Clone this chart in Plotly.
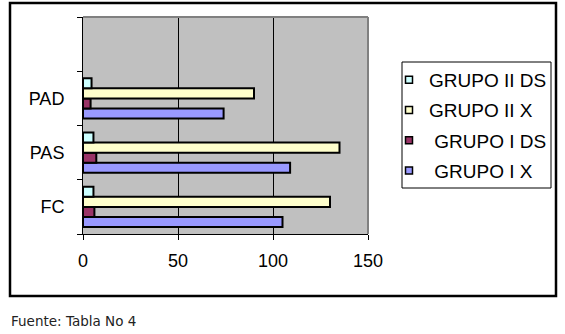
import plotly.graph_objects as go

# Variables (bottom to top on the category axis)
categories = ["FC", "PAS", "PAD"]

grupo_i_x = [105, 109, 74]
grupo_i_ds = [6, 7, 4]
grupo_ii_x = [130, 135, 90]
grupo_ii_ds = [5.5, 5.5, 4.5]

x_ticks = [0, 50, 100, 150]

series = [
    ("GRUPO I X", "\u00a0GRUPO I X", grupo_i_x, "#9999FF"),
    ("GRUPO I DS", "\u00a0GRUPO I DS", grupo_i_ds, "#993366"),
    ("GRUPO II X", "GRUPO II X", grupo_ii_x, "#FFFFCC"),
    ("GRUPO II DS", "GRUPO II DS", grupo_ii_ds, "#CCFFFF"),
]

W, H = 565, 334
L, R, T, B = 83, 197, 17, 100
pw, ph = W - L - R, H - T - B


def px_x(p):
    return (p - L) / pw


def px_y(p):
    return (H - B - p) / ph


ypos = list(range(len(categories)))

fig = go.Figure()
for key, label, vals, color in series:
    fig.add_trace(go.Bar(
        x=vals, y=ypos, orientation="h", name=key, showlegend=False,
        marker=dict(color=color, line=dict(color="black", width=2)),
    ))

# Legend entries, top to bottom
for key, label, vals, color in reversed(series):
    fig.add_trace(go.Scatter(
        x=[None], y=[None], mode="markers", name=label, legendgroup=key,
        marker=dict(symbol="square", size=7, color=color,
                    line=dict(color="black", width=1.5)),
    ))

shapes = [
    # outer frame
    dict(type="rect", xref="paper", yref="paper",
         x0=px_x(10), x1=px_x(556), y0=px_y(296), y1=px_y(3),
         line=dict(color="black", width=2.5), fillcolor="rgba(0,0,0,0)"),
    # legend box
    dict(type="rect", xref="paper", yref="paper",
         x0=px_x(402), x1=px_x(551), y0=px_y(188), y1=px_y(62),
         line=dict(color="black", width=1), fillcolor="rgba(0,0,0,0)"),
    # plot area top and right edges
    dict(type="line", xref="paper", yref="paper", x0=0, x1=1, y0=1, y1=1,
         line=dict(color="#808080", width=2), layer="above"),
    dict(type="line", xref="paper", yref="paper", x0=1, x1=1, y0=0, y1=1,
         line=dict(color="#808080", width=2), layer="above"),
]

fig.update_layout(
    width=W, height=H,
    margin=dict(l=L, r=R, t=T, b=B),
    paper_bgcolor="white",
    plot_bgcolor="#C0C0C0",
    barmode="group",
    bargap=0.26,
    bargroupgap=0,
    font=dict(family="Liberation Sans, Arial, sans-serif", size=18, color="black"),
    showlegend=True,
    legend=dict(
        x=px_x(389), xanchor="left", y=px_y(61), yanchor="top",
        bgcolor="rgba(0,0,0,0)", borderwidth=0,
        font=dict(size=19), tracegroupgap=2.5, traceorder="grouped",
    ),
    shapes=shapes,
    annotations=[
        dict(text="Fuente: Tabla No 4", xref="paper", yref="paper",
             x=px_x(9), y=px_y(321), xanchor="left", yanchor="middle",
             showarrow=False,
             font=dict(family="DejaVu Sans, Verdana, sans-serif", size=13.5,
                       color="#222222")),
    ],
)

fig.update_xaxes(
    range=[0, 150], tickvals=x_ticks, ticks="outside", ticklen=5,
    tickcolor="black", showline=True, linecolor="black", linewidth=1,
    showgrid=True, gridcolor="black", gridwidth=1, zeroline=False,
    ticklabelstandoff=5, fixedrange=True,
)
fig.update_yaxes(
    range=[-0.5, 3.5], tickvals=ypos, ticktext=categories, ticks="",
    showline=True, linecolor="black", linewidth=1, showgrid=False,
    zeroline=False, ticklabelstandoff=14,
    minor=dict(tickvals=[-0.5, 0.5, 1.5, 2.5, 3.5], ticks="outside",
               ticklen=5, tickcolor="black", showgrid=False),
    fixedrange=True,
)

fig.write_html("out.html")
